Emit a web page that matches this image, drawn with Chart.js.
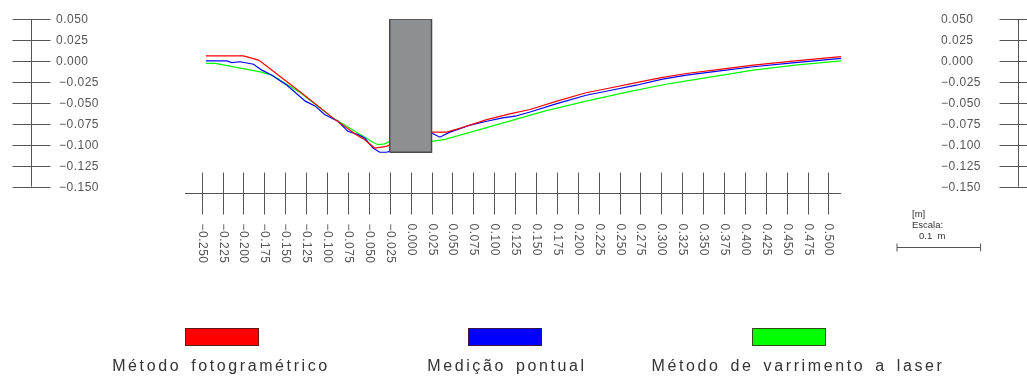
<!DOCTYPE html>
<html>
<head>
<meta charset="utf-8">
<script src="https://cdn.jsdelivr.net/npm/chart.js@4/dist/chart.umd.min.js"></script>
<style>
  html, body { margin: 0; padding: 0; background: #fff; }
  canvas { display: block; }
</style>
</head>
<body>
<canvas id="chartCanvas" width="1027" height="376"></canvas>
<script>
// Profile data, all values in metres

// Método fotogramétrico
const redX = [-0.245, -0.200, -0.182, -0.174, -0.132, -0.093, -0.065, -0.055, -0.043, -0.029, -0.025, 0.000, 0.025, 0.043, 0.060, 0.091, 0.120, 0.143, 0.175, 0.210, 0.240, 0.270, 0.300, 0.330, 0.370, 0.410, 0.460, 0.515];
const redY = [0.006, 0.006, 0.001, -0.005, -0.037, -0.068, -0.088, -0.094, -0.104, -0.102, -0.100, -0.092, -0.085, -0.085, -0.080, -0.070, -0.063, -0.058, -0.048, -0.038, -0.032, -0.026, -0.020, -0.015, -0.010, -0.005, 0.000, 0.005];

// Medição pontual
const blueX = [-0.245, -0.220, -0.214, -0.204, -0.188, -0.178, -0.166, -0.148, -0.126, -0.114, -0.103, -0.087, -0.075, -0.063, -0.055, -0.045, -0.037, -0.029, -0.025, 0.000, 0.025, 0.035, 0.047, 0.070, 0.091, 0.110, 0.125, 0.143, 0.175, 0.210, 0.240, 0.270, 0.300, 0.330, 0.370, 0.410, 0.460, 0.515];
const blueY = [0.000, 0.000, -0.002, -0.001, -0.004, -0.011, -0.017, -0.029, -0.048, -0.054, -0.064, -0.072, -0.084, -0.088, -0.092, -0.104, -0.109, -0.109, -0.108, -0.097, -0.086, -0.091, -0.085, -0.077, -0.072, -0.068, -0.066, -0.061, -0.051, -0.041, -0.035, -0.029, -0.022, -0.017, -0.012, -0.007, -0.002, 0.003];

// Método de varrimento a laser
const greenX = [-0.245, -0.234, -0.180, -0.166, -0.132, -0.093, -0.045, -0.039, -0.031, -0.025, 0.000, 0.025, 0.040, 0.111, 0.160, 0.210, 0.260, 0.310, 0.360, 0.410, 0.460, 0.515];
const greenY = [-0.003, -0.003, -0.013, -0.017, -0.038, -0.068, -0.097, -0.100, -0.099, -0.096, -0.096, -0.096, -0.094, -0.074, -0.060, -0.048, -0.037, -0.027, -0.019, -0.011, -0.005, 0.000];

// grey block in the middle
const wallX = [-0.025, -0.025, 0.025, 0.025, -0.025];
const wallY = [-0.109, 0.050, 0.050, -0.109, -0.109];

// axis ticks
const xTicks = [-0.250, -0.225, -0.200, -0.175, -0.150, -0.125, -0.100, -0.075, -0.050, -0.025, 0.000, 0.025, 0.050, 0.075, 0.100, 0.125, 0.150, 0.175, 0.200, 0.225, 0.250, 0.275, 0.300, 0.325, 0.350, 0.375, 0.400, 0.425, 0.450, 0.475, 0.500];
const yTicks = [0.050, 0.025, 0.000, -0.025, -0.050, -0.075, -0.100, -0.125, -0.150];
const xAxisLevel = -0.158;
const scaleBar = 0.1;

const legendLabels = ['Método fotogramétrico', 'Medição pontual', 'Método de varrimento a laser'];
const seriesColors = ['#ff0000', '#0000ff', '#00ff00'];

function toPoints(xs, ys) {
    return xs.map((x, i) => ({ x: x, y: ys[i] }));
}

function fmt(v) {
    return v.toFixed(3).replace('-', '\u2212');
}

// Plugin: CAD style axes, scale bar and legend
const cadAxes = {
    id: 'cadAxes',
    afterDraw(chart) {
        const ctx = chart.ctx;
        const xs = chart.scales.x;
        const ys = chart.scales.y;
        ctx.save();
        ctx.strokeStyle = '#555';
        ctx.lineWidth = 1;
        ctx.fillStyle = '#555';
        ctx.font = "12px 'Liberation Sans', Arial, sans-serif";
        ctx.letterSpacing = '0.5px';

        // vertical axes (left and right)
        const yTop = ys.getPixelForValue(yTicks[0]);
        const yBot = ys.getPixelForValue(yTicks[yTicks.length - 1]);
        [31.5, 1018.5].forEach((ax, side) => {
            ctx.beginPath();
            ctx.moveTo(ax, yTop);
            ctx.lineTo(ax, yBot);
            ctx.stroke();
            yTicks.forEach(t => {
                const py = Math.round(ys.getPixelForValue(t)) + 0.5;
                ctx.beginPath();
                ctx.moveTo(ax - 19, py);
                ctx.lineTo(ax + 19, py);
                ctx.stroke();
                ctx.textBaseline = 'middle';
                ctx.textAlign = 'left';
                if (side === 0) {
                    ctx.fillText(fmt(t), t < 0 ? 59 : 56, py);
                } else {
                    ctx.fillText(fmt(t), 941, py);
                }
            });
        });

        // horizontal axis
        const ay = Math.round(ys.getPixelForValue(xAxisLevel)) + 0.5;
        ctx.beginPath();
        ctx.moveTo(xs.left, ay);
        ctx.lineTo(xs.right, ay);
        ctx.stroke();
        xTicks.forEach(t => {
            const px = Math.round(xs.getPixelForValue(t)) + 0.5;
            ctx.beginPath();
            ctx.moveTo(px, ay - 21);
            ctx.lineTo(px, ay + 21);
            ctx.stroke();
            ctx.save();
            ctx.translate(px, ay + 30);
            ctx.rotate(Math.PI / 2);
            ctx.textAlign = 'left';
            ctx.textBaseline = 'middle';
            ctx.fillText(fmt(t), 0, 0);
            ctx.restore();
        });

        // scale bar
        const barLen = xs.getPixelForValue(scaleBar) - xs.getPixelForValue(0);
        const bx = 897, by = 247.5;
        ctx.beginPath();
        ctx.moveTo(bx, by);
        ctx.lineTo(bx + barLen, by);
        ctx.moveTo(bx, by - 4);
        ctx.lineTo(bx, by + 4);
        ctx.moveTo(bx + barLen, by - 4);
        ctx.lineTo(bx + barLen, by + 4);
        ctx.stroke();
        ctx.font = "9.5px 'Liberation Sans', Arial, sans-serif";
        ctx.letterSpacing = '0px';
        ctx.textAlign = 'left';
        ctx.textBaseline = 'middle';
        ctx.fillStyle = '#333';
        ctx.fillText('[m]', 912, 214);
        ctx.fillText('Escala:', 912, 225);
        ctx.fillText('0.1  m', 919, 236);

        // legend
        const swatchLeft = [185, 468, 752];
        const textCenter = [221, 507, 798];
        ctx.font = "16px 'Liberation Sans', Arial, sans-serif";
        ctx.letterSpacing = '2.6px';
        ctx.wordSpacing = '3px';
        ctx.textAlign = 'center';
        ctx.textBaseline = 'alphabetic';
        legendLabels.forEach((label, i) => {
            ctx.fillStyle = seriesColors[i];
            ctx.fillRect(swatchLeft[i], 328, 74, 18);
            ctx.strokeStyle = 'rgba(60,30,30,0.8)';
            ctx.strokeRect(swatchLeft[i] + 0.5, 328.5, 73, 17);
            ctx.fillStyle = '#333';
            ctx.fillText(label, textCenter[i], 371);
        });
        ctx.restore();
    }
};

const chartCanvas = document.getElementById('chartCanvas');
const chart = new Chart(chartCanvas, {
    type: 'line',
    data: {
        datasets: [
            {
                label: 'bloco',
                data: toPoints(wallX, wallY),
                borderColor: '#4a4a4a',
                borderWidth: 1.5,
                backgroundColor: '#8e8f93',
                fill: 'shape',
                pointRadius: 0,
                tension: 0,
                order: 0,
            },
            {
                label: legendLabels[0],
                data: toPoints(redX, redY),
                borderColor: seriesColors[0],
                borderWidth: 1.2,
                pointRadius: 0,
                tension: 0,
                fill: false,
                order: 1,
            },
            {
                label: legendLabels[1],
                data: toPoints(blueX, blueY),
                borderColor: seriesColors[1],
                borderWidth: 1.2,
                pointRadius: 0,
                tension: 0,
                fill: false,
                order: 2,
            },
            {
                label: legendLabels[2],
                data: toPoints(greenX, greenY),
                borderColor: seriesColors[2],
                borderWidth: 1.2,
                pointRadius: 0,
                tension: 0,
                fill: false,
                order: 3,
            },
        ],
    },
    options: {
        responsive: false,
        animation: false,
        layout: { padding: { left: 185, right: 186, top: 19, bottom: 181 } },
        plugins: { legend: { display: false }, tooltip: { enabled: false } },
        scales: {
            x: { type: 'linear', min: -0.27, max: 0.515, display: false },
            y: { type: 'linear', min: -0.16, max: 0.05, display: false },
        },
    },
    plugins: [cadAxes],
});
</script>
</body>
</html>
